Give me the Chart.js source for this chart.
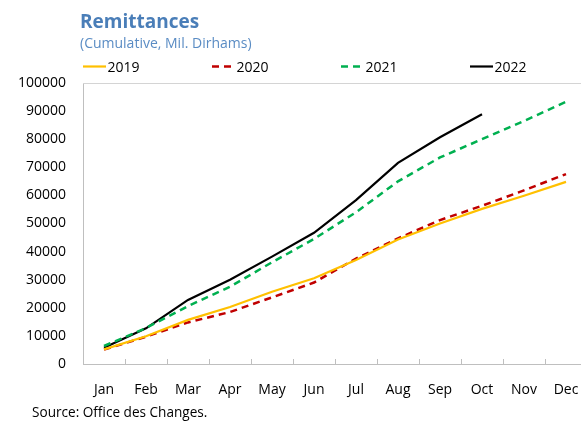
<!DOCTYPE html>
<html>
<head>
<meta charset="utf-8">
<script src="https://cdn.jsdelivr.net/npm/chart.js@4.4.1/dist/chart.umd.min.js"></script>
<style>
  html, body { margin: 0; padding: 0; background: #fff; overflow: hidden; }
  #wrap { width: 590px; height: 421px; }
</style>
</head>
<body>
<div id="wrap"><canvas id="grafico" width="590" height="421"></canvas></div>
<script>
const meses = ['Jan','Feb','Mar','Apr','May','Jun','Jul','Aug','Sep','Oct','Nov','Dec'];
const ticksY = [0, 10000, 20000, 30000, 40000, 50000, 60000, 70000, 80000, 90000, 100000];

const dados2019 = [5200, 9900, 15700, 20300, 25700, 30500, 37000, 44300, 50000, 55200, 59900, 64800];
const dados2020 = [5100, 9700, 14800, 18500, 23700, 29000, 37500, 44700, 51200, 56300, 61800, 67600];
const dados2021 = [6400, 12800, 20600, 27500, 36200, 44500, 54000, 65000, 73500, 80000, 86500, 93300];
const dados2022 = [5800, 12700, 22800, 30000, 38200, 46700, 58300, 71600, 80700, 88900];

const titulo = 'Remittances';
const subtitulo = '(Cumulative, Mil. Dirhams)';
const fonte = 'Source: Office des Changes.';

const FONT = '"Open Sans", "Liberation Sans", sans-serif';

// titulo, legenda, moldura e fonte desenhados a mao
const extras = {
  id: 'extras',
  beforeDatasetsDraw(chart) {
    const { ctx, chartArea: a } = chart;
    ctx.save();
    ctx.strokeStyle = '#d4d4d4';
    ctx.lineWidth = 1;
    ctx.beginPath();
    ctx.moveTo(a.left, a.top + 0.5);
    ctx.lineTo(a.right, a.top + 0.5);
    ctx.lineTo(a.right + 0.5, a.bottom);
    ctx.stroke();
    ctx.restore();
  },
  afterDraw(chart) {
    const { ctx } = chart;
    ctx.save();
    ctx.textBaseline = 'alphabetic';
    ctx.textAlign = 'left';
    ctx.fillStyle = '#4a7eb8';
    ctx.font = 'bold 19px ' + FONT;
    ctx.fillText(titulo, 80, 28);
    ctx.fillStyle = '#5a8cc4';
    ctx.font = '14px ' + FONT;
    ctx.fillText(subtitulo, 80, 48);

    // legenda
    ctx.font = '14px ' + FONT;
    chart.data.datasets.forEach((ds, i) => {
      const x = 83 + i * 129;
      const y = 66.5;
      ctx.strokeStyle = ds.borderColor;
      ctx.lineWidth = ds.borderWidth;
      ctx.setLineDash(ds.borderDash || []);
      ctx.beginPath();
      ctx.moveTo(x, y);
      ctx.lineTo(x + 23, y);
      ctx.stroke();
      ctx.setLineDash([]);
      ctx.fillStyle = '#000';
      ctx.fillText(ds.label, x + 24.5, 71.5);
    });

    ctx.fillStyle = '#000';
    ctx.font = '13.6px ' + FONT;
    ctx.fillText(fonte, 32, 417);
    ctx.restore();
  }
};

const ctx = document.getElementById('grafico');
new Chart(ctx, {
  type: 'line',
  data: {
    labels: meses,
    datasets: [
      { label: '2019', data: dados2019, borderColor: '#FFC000', borderWidth: 2.2, borderDash: [], tension: 0 },
      { label: '2020', data: dados2020, borderColor: '#C00000', borderWidth: 2.5, borderDash: [7, 5], tension: 0 },
      { label: '2021', data: dados2021, borderColor: '#00B050', borderWidth: 2.5, borderDash: [7, 5], tension: 0 },
      { label: '2022', data: dados2022, borderColor: '#000000', borderWidth: 2.2, borderDash: [], tension: 0 }
    ]
  },
  options: {
    responsive: false,
    animation: false,
    devicePixelRatio: 1,
    layout: { padding: { top: 83, right: 3, left: 0, bottom: 0 } },
    elements: { point: { radius: 0 } },
    plugins: {
      legend: { display: false },
      tooltip: { enabled: false }
    },
    scales: {
      x: {
        offset: true,
        grid: { offset: true, drawOnChartArea: false, drawTicks: true, tickLength: -5, color: '#bfbfbf' },
        border: { color: '#bfbfbf' },
        ticks: { color: '#000', padding: 23, font: { family: FONT, size: 14 }, maxRotation: 0, autoSkip: false },
        afterFit(scale) {
          scale.height = 57;
          scale.paddingLeft = 0;
          scale.paddingRight = 0;
        }
      },
      y: {
        min: 0,
        max: 100000,
        afterBuildTicks(scale) { scale.ticks = ticksY.map(v => ({ value: v })); },
        grid: { display: false, drawTicks: false },
        border: { color: '#bfbfbf' },
        ticks: { color: '#000', padding: 17, font: { family: FONT, size: 14 }, callback: v => String(v) },
        afterFit(scale) {
          scale.width = 83;
          scale.paddingTop = 0;
          scale.paddingBottom = 0;
        }
      }
    }
  },
  plugins: [extras]
});
</script>
</body>
</html>
